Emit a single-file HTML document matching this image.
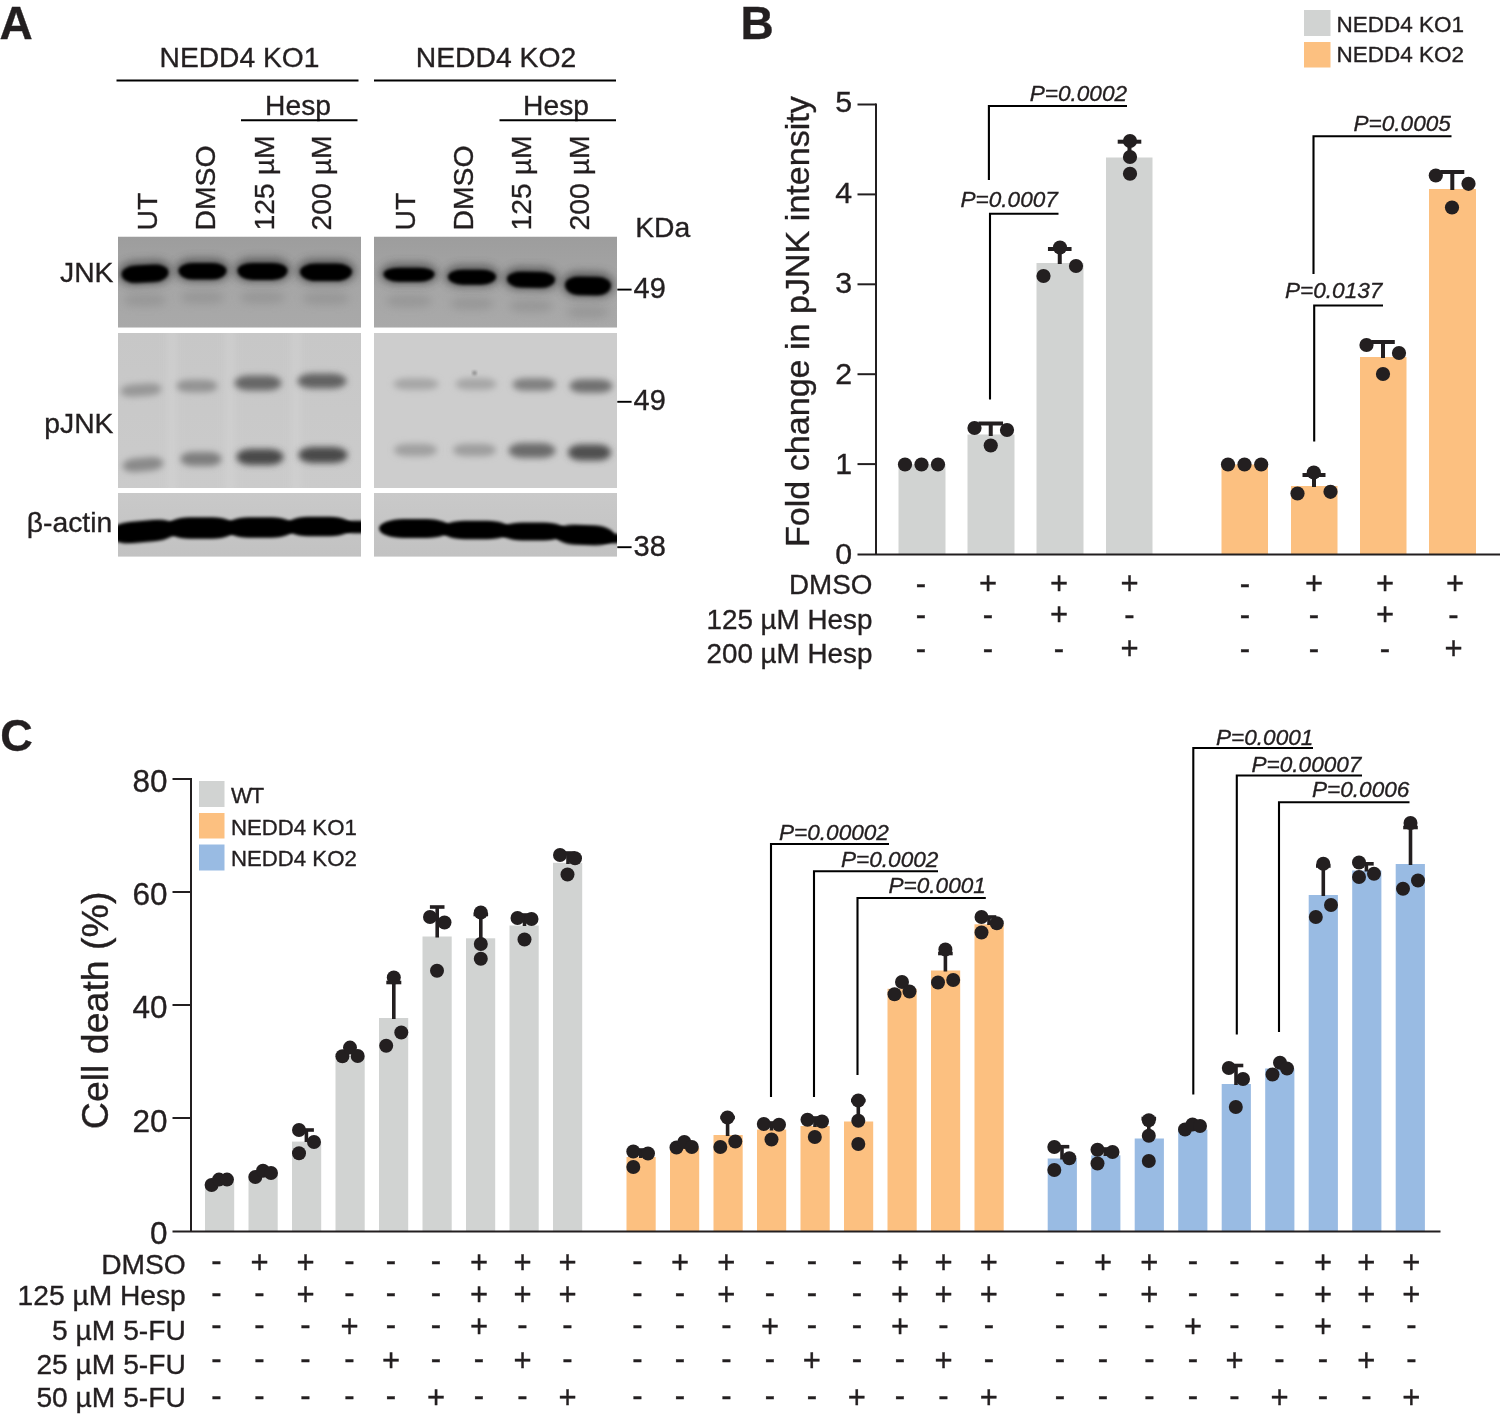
<!DOCTYPE html>
<html lang="en"><head><meta charset="utf-8"><title>Figure</title>
<style>
html,body{margin:0;padding:0;background:#fff;}
svg{display:block;}
text{font-family:'Liberation Sans', Arial, Helvetica, sans-serif;fill:#231f20;stroke:#231f20;stroke-width:0.35px;}
</style></head>
<body>
<svg width="1500" height="1419" viewBox="0 0 1500 1419">
<rect x="0" y="0" width="1500" height="1419" fill="#fff"/>
<defs>
<filter id="b1" x="-20%" y="-50%" width="140%" height="200%"><feGaussianBlur stdDeviation="1.6"/></filter>
<filter id="b2" x="-20%" y="-50%" width="140%" height="200%"><feGaussianBlur stdDeviation="2.6"/></filter>
<filter id="b4" x="-30%" y="-100%" width="160%" height="300%"><feGaussianBlur stdDeviation="3.3"/></filter>
<filter id="b5" x="-300%" y="-10%" width="700%" height="120%"><feGaussianBlur stdDeviation="4"/></filter>
<filter id="b3" x="-20%" y="-80%" width="140%" height="260%"><feGaussianBlur stdDeviation="4"/></filter>
<linearGradient id="gJ" x1="0" y1="0" x2="0" y2="1"><stop offset="0" stop-color="#9d9d9d"/><stop offset="0.55" stop-color="#a6a6a6"/><stop offset="1" stop-color="#a9a9a9"/></linearGradient>
<linearGradient id="gP" x1="0" y1="0" x2="0" y2="1"><stop offset="0" stop-color="#c7c7c7"/><stop offset="1" stop-color="#cbcbcb"/></linearGradient>
<linearGradient id="gA" x1="0" y1="0" x2="0" y2="1"><stop offset="0" stop-color="#c9c9c9"/><stop offset="1" stop-color="#c2c2c2"/></linearGradient>
<clipPath id="cJ0"><rect x="118" y="236.5" width="243" height="91.2"/></clipPath>
<clipPath id="cP0"><rect x="118" y="333" width="243" height="155"/></clipPath>
<clipPath id="cA0"><rect x="118" y="493" width="243" height="63.8"/></clipPath>
<clipPath id="cJ1"><rect x="374" y="236.5" width="243" height="91.2"/></clipPath>
<clipPath id="cP1"><rect x="374" y="333" width="243" height="155"/></clipPath>
<clipPath id="cA1"><rect x="374" y="493" width="243" height="63.8"/></clipPath>
</defs>
<text x="-0.6" y="38.7" font-size="46" font-weight="bold">A</text>
<text x="239.5" y="67" font-size="28.2" text-anchor="middle">NEDD4 KO1</text>
<text x="496" y="67" font-size="28.3" text-anchor="middle">NEDD4 KO2</text>
<line x1="116.5" y1="80.5" x2="358.5" y2="80.5" stroke="#000" stroke-width="2" stroke-linecap="butt"/>
<line x1="374" y1="80.5" x2="616" y2="80.5" stroke="#000" stroke-width="2" stroke-linecap="butt"/>
<text x="298" y="114.5" font-size="28.2" text-anchor="middle">Hesp</text>
<text x="556" y="114.5" font-size="28.2" text-anchor="middle">Hesp</text>
<line x1="241" y1="120.3" x2="357.5" y2="120.3" stroke="#000" stroke-width="2" stroke-linecap="butt"/>
<line x1="499.5" y1="120.3" x2="616" y2="120.3" stroke="#000" stroke-width="2" stroke-linecap="butt"/>
<text x="157.3" y="230.6" font-size="28.4" transform="rotate(-90 157.3 230.6)">UT</text>
<text x="214.8" y="230.6" font-size="28.4" transform="rotate(-90 214.8 230.6)">DMSO</text>
<text x="273.8" y="230.6" font-size="28.4" transform="rotate(-90 273.8 230.6)">125 µM</text>
<text x="331.3" y="230.6" font-size="28.4" transform="rotate(-90 331.3 230.6)">200 µM</text>
<text x="415.3" y="230.6" font-size="28.4" transform="rotate(-90 415.3 230.6)">UT</text>
<text x="473.3" y="230.6" font-size="28.4" transform="rotate(-90 473.3 230.6)">DMSO</text>
<text x="530.8" y="230.6" font-size="28.4" transform="rotate(-90 530.8 230.6)">125 µM</text>
<text x="588.8" y="230.6" font-size="28.4" transform="rotate(-90 588.8 230.6)">200 µM</text>
<text x="635.2" y="236.6" font-size="28.3">KDa</text>
<text x="113.5" y="282.2" font-size="28.3" text-anchor="end">JNK</text>
<text x="113.5" y="432.5" font-size="28.3" text-anchor="end">pJNK</text>
<text x="112.2" y="532.2" font-size="28.3" text-anchor="end">β-actin</text>
<line x1="617.3" y1="289.6" x2="631.6" y2="289.6" stroke="#000" stroke-width="1.9" stroke-linecap="butt"/>
<line x1="617.3" y1="401.8" x2="631.6" y2="401.8" stroke="#000" stroke-width="1.9" stroke-linecap="butt"/>
<line x1="617.3" y1="547.2" x2="631.6" y2="547.2" stroke="#000" stroke-width="1.9" stroke-linecap="butt"/>
<text x="633.6" y="297.6" font-size="29">49</text>
<text x="633.6" y="410.3" font-size="29">49</text>
<text x="633.6" y="555.6" font-size="29">38</text>
<g clip-path="url(#cJ0)">
<rect x="118" y="236.5" width="243" height="91.2" fill="url(#gJ)"/>
<path d="M123.8 300.0 A12.8 6.0 0 0 1 136.5 294.0 H153.5 A12.8 6.0 0 0 1 166.2 300.0 A12.8 6.0 0 0 1 153.5 306.0 H136.5 A12.8 6.0 0 0 1 123.8 300.0Z" fill="#8a8a8a" opacity="0.55" filter="url(#b3)"/>
<path d="M118.0 273.0 A16.2 12.7 0 0 1 134.2 260.4 H155.8 A16.2 12.7 0 0 1 172.0 273.0 A16.2 11.5 0 0 1 155.8 284.5 H134.2 A16.2 11.5 0 0 1 118.0 273.0Z" fill="#404040" opacity="0.7" filter="url(#b3)" transform="rotate(-3 145 273)"/>
<path d="M121.5 273.0 A14.1 7.9 0 0 1 135.6 265.1 H154.4 A14.1 7.9 0 0 1 168.5 273.0 A14.1 9.6 0 0 1 154.4 282.6 H135.6 A14.1 9.6 0 0 1 121.5 273.0Z" fill="#060606" opacity="1" filter="url(#b1)" transform="rotate(-3 145 273)"/>
<path d="M180.8 297.5 A13.0 6.0 0 0 1 193.8 291.5 H211.2 A13.0 6.0 0 0 1 224.2 297.5 A13.0 6.0 0 0 1 211.2 303.5 H193.8 A13.0 6.0 0 0 1 180.8 297.5Z" fill="#8a8a8a" opacity="0.55" filter="url(#b3)"/>
<path d="M175.0 270.5 A16.5 12.1 0 0 1 191.5 258.4 H213.5 A16.5 12.1 0 0 1 230.0 270.5 A16.5 11.0 0 0 1 213.5 281.5 H191.5 A16.5 11.0 0 0 1 175.0 270.5Z" fill="#404040" opacity="0.7" filter="url(#b3)"/>
<path d="M178.5 270.5 A14.4 7.4 0 0 1 192.9 263.1 H212.1 A14.4 7.4 0 0 1 226.5 270.5 A14.4 9.1 0 0 1 212.1 279.6 H192.9 A14.4 9.1 0 0 1 178.5 270.5Z" fill="#060606" opacity="1" filter="url(#b1)"/>
<path d="M240.0 297.5 A13.5 6.0 0 0 1 253.5 291.5 H271.5 A13.5 6.0 0 0 1 285.0 297.5 A13.5 6.0 0 0 1 271.5 303.5 H253.5 A13.5 6.0 0 0 1 240.0 297.5Z" fill="#8a8a8a" opacity="0.55" filter="url(#b3)"/>
<path d="M234.0 270.5 A17.1 12.4 0 0 1 251.1 258.1 H273.9 A17.1 12.4 0 0 1 291.0 270.5 A17.1 11.2 0 0 1 273.9 281.8 H251.1 A17.1 11.2 0 0 1 234.0 270.5Z" fill="#404040" opacity="0.7" filter="url(#b3)"/>
<path d="M237.5 270.5 A15.0 7.7 0 0 1 252.5 262.9 H272.5 A15.0 7.7 0 0 1 287.5 270.5 A15.0 9.4 0 0 1 272.5 279.9 H252.5 A15.0 9.4 0 0 1 237.5 270.5Z" fill="#060606" opacity="1" filter="url(#b1)"/>
<path d="M302.6 298.5 A14.0 6.0 0 0 1 316.6 292.5 H335.4 A14.0 6.0 0 0 1 349.4 298.5 A14.0 6.0 0 0 1 335.4 304.5 H316.6 A14.0 6.0 0 0 1 302.6 298.5Z" fill="#8a8a8a" opacity="0.55" filter="url(#b3)"/>
<path d="M296.5 271.5 A17.7 12.7 0 0 1 314.2 258.9 H337.8 A17.7 12.7 0 0 1 355.5 271.5 A17.7 11.5 0 0 1 337.8 283.0 H314.2 A17.7 11.5 0 0 1 296.5 271.5Z" fill="#404040" opacity="0.7" filter="url(#b3)"/>
<path d="M300.0 271.5 A15.6 7.9 0 0 1 315.6 263.6 H336.4 A15.6 7.9 0 0 1 352.0 271.5 A15.6 9.6 0 0 1 336.4 281.1 H315.6 A15.6 9.6 0 0 1 300.0 271.5Z" fill="#060606" opacity="1" filter="url(#b1)"/>
</g>
<g clip-path="url(#cJ1)">
<rect x="374" y="236.5" width="243" height="91.2" fill="url(#gJ)"/>
<path d="M386.1 301.0 A13.8 6.0 0 0 1 399.8 295.0 H418.2 A13.8 6.0 0 0 1 431.9 301.0 A13.8 6.0 0 0 1 418.2 307.0 H399.8 A13.8 6.0 0 0 1 386.1 301.0Z" fill="#8a8a8a" opacity="0.55" filter="url(#b3)"/>
<path d="M380.0 274.0 A17.4 10.7 0 0 1 397.4 263.3 H420.6 A17.4 10.7 0 0 1 438.0 274.0 A17.4 9.8 0 0 1 420.6 283.8 H397.4 A17.4 9.8 0 0 1 380.0 274.0Z" fill="#404040" opacity="0.7" filter="url(#b3)"/>
<path d="M383.5 274.0 A15.3 6.3 0 0 1 398.8 267.7 H419.2 A15.3 6.3 0 0 1 434.5 274.0 A15.3 7.7 0 0 1 419.2 281.7 H398.8 A15.3 7.7 0 0 1 383.5 274.0Z" fill="#060606" opacity="1" filter="url(#b1)"/>
<path d="M450.3 303.5 A13.0 6.0 0 0 1 463.3 297.5 H480.7 A13.0 6.0 0 0 1 493.7 303.5 A13.0 6.0 0 0 1 480.7 309.5 H463.3 A13.0 6.0 0 0 1 450.3 303.5Z" fill="#8a8a8a" opacity="0.55" filter="url(#b3)"/>
<path d="M444.5 276.5 A16.5 11.3 0 0 1 461.0 265.2 H483.0 A16.5 11.3 0 0 1 499.5 276.5 A16.5 10.2 0 0 1 483.0 286.8 H461.0 A16.5 10.2 0 0 1 444.5 276.5Z" fill="#404040" opacity="0.7" filter="url(#b3)"/>
<path d="M448.0 276.5 A14.4 6.8 0 0 1 462.4 269.8 H481.6 A14.4 6.8 0 0 1 496.0 276.5 A14.4 8.2 0 0 1 481.6 284.8 H462.4 A14.4 8.2 0 0 1 448.0 276.5Z" fill="#060606" opacity="1" filter="url(#b1)"/>
<path d="M509.3 306.0 A13.0 6.0 0 0 1 522.3 300.0 H539.7 A13.0 6.0 0 0 1 552.7 306.0 A13.0 6.0 0 0 1 539.7 312.0 H522.3 A13.0 6.0 0 0 1 509.3 306.0Z" fill="#8a8a8a" opacity="0.55" filter="url(#b3)"/>
<path d="M503.5 279.0 A16.5 11.8 0 0 1 520.0 267.2 H542.0 A16.5 11.8 0 0 1 558.5 279.0 A16.5 10.8 0 0 1 542.0 289.8 H520.0 A16.5 10.8 0 0 1 503.5 279.0Z" fill="#404040" opacity="0.7" filter="url(#b3)" transform="rotate(1 531 279)"/>
<path d="M507.0 279.0 A14.4 7.2 0 0 1 521.4 271.8 H540.6 A14.4 7.2 0 0 1 555.0 279.0 A14.4 8.8 0 0 1 540.6 287.8 H521.4 A14.4 8.8 0 0 1 507.0 279.0Z" fill="#060606" opacity="1" filter="url(#b1)" transform="rotate(1 531 279)"/>
<path d="M567.2 312.0 A12.5 6.0 0 0 1 579.7 306.0 H596.3 A12.5 6.0 0 0 1 608.8 312.0 A12.5 6.0 0 0 1 596.3 318.0 H579.7 A12.5 6.0 0 0 1 567.2 312.0Z" fill="#8a8a8a" opacity="0.55" filter="url(#b3)"/>
<path d="M561.5 285.0 A15.9 13.2 0 0 1 577.4 271.8 H598.6 A15.9 13.2 0 0 1 614.5 285.0 A15.9 12.0 0 0 1 598.6 297.0 H577.4 A15.9 12.0 0 0 1 561.5 285.0Z" fill="#404040" opacity="0.7" filter="url(#b3)" transform="rotate(1 588 285)"/>
<path d="M565.0 285.0 A13.8 8.3 0 0 1 578.8 276.7 H597.2 A13.8 8.3 0 0 1 611.0 285.0 A13.8 10.2 0 0 1 597.2 295.2 H578.8 A13.8 10.2 0 0 1 565.0 285.0Z" fill="#060606" opacity="1" filter="url(#b1)" transform="rotate(1 588 285)"/>
</g>
<g clip-path="url(#cP0)">
<rect x="118" y="333" width="243" height="155" fill="url(#gP)"/>
<rect x="168" y="325" width="8" height="170" fill="#dadada" opacity="0.45" filter="url(#b5)"/>
<rect x="226" y="325" width="8" height="170" fill="#dadada" opacity="0.45" filter="url(#b5)"/>
<rect x="292" y="325" width="8" height="170" fill="#dadada" opacity="0.45" filter="url(#b5)"/>
<path d="M120.5 390.0 A12.3 6.2 0 0 1 132.8 383.8 H149.2 A12.3 6.2 0 0 1 161.5 390.0 A12.3 6.2 0 0 1 149.2 396.2 H132.8 A12.3 6.2 0 0 1 120.5 390.0Z" fill="#979797" opacity="1" filter="url(#b4)" transform="rotate(-4 141 390)"/>
<path d="M176.5 386.0 A12.3 6.2 0 0 1 188.8 379.8 H205.2 A12.3 6.2 0 0 1 217.5 386.0 A12.3 6.2 0 0 1 205.2 392.2 H188.8 A12.3 6.2 0 0 1 176.5 386.0Z" fill="#939393" opacity="1" filter="url(#b4)"/>
<path d="M234.5 383.0 A14.1 7.5 0 0 1 248.6 375.5 H267.4 A14.1 7.5 0 0 1 281.5 383.0 A14.1 7.5 0 0 1 267.4 390.5 H248.6 A14.1 7.5 0 0 1 234.5 383.0Z" fill="#666666" opacity="1" filter="url(#b4)"/>
<path d="M297.5 381.0 A14.7 7.5 0 0 1 312.2 373.5 H331.8 A14.7 7.5 0 0 1 346.5 381.0 A14.7 7.5 0 0 1 331.8 388.5 H312.2 A14.7 7.5 0 0 1 297.5 381.0Z" fill="#626262" opacity="1" filter="url(#b4)"/>
<path d="M122.5 464.5 A12.3 6.8 0 0 1 134.8 457.8 H151.2 A12.3 6.8 0 0 1 163.5 464.5 A12.3 6.8 0 0 1 151.2 471.2 H134.8 A12.3 6.8 0 0 1 122.5 464.5Z" fill="#898989" opacity="1" filter="url(#b4)" transform="rotate(-5 143 464.5)"/>
<path d="M180.5 459.0 A12.3 7.0 0 0 1 192.8 452.0 H209.2 A12.3 7.0 0 0 1 221.5 459.0 A12.3 7.0 0 0 1 209.2 466.0 H192.8 A12.3 7.0 0 0 1 180.5 459.0Z" fill="#7e7e7e" opacity="1" filter="url(#b4)"/>
<path d="M236.5 457.0 A14.1 8.0 0 0 1 250.6 449.0 H269.4 A14.1 8.0 0 0 1 283.5 457.0 A14.1 8.0 0 0 1 269.4 465.0 H250.6 A14.1 8.0 0 0 1 236.5 457.0Z" fill="#484848" opacity="1" filter="url(#b4)"/>
<path d="M298.5 455.0 A14.7 8.0 0 0 1 313.2 447.0 H332.8 A14.7 8.0 0 0 1 347.5 455.0 A14.7 8.0 0 0 1 332.8 463.0 H313.2 A14.7 8.0 0 0 1 298.5 455.0Z" fill="#484848" opacity="1" filter="url(#b4)"/>
</g>
<g clip-path="url(#cP1)">
<rect x="374" y="333" width="243" height="155" fill="#cdcdcd"/>
<path d="M393.5 384.0 A13.5 5.8 0 0 1 407.0 378.2 H425.0 A13.5 5.8 0 0 1 438.5 384.0 A13.5 5.8 0 0 1 425.0 389.8 H407.0 A13.5 5.8 0 0 1 393.5 384.0Z" fill="#a6a6a6" opacity="1" filter="url(#b4)"/>
<path d="M455.5 384.0 A12.3 5.8 0 0 1 467.8 378.2 H484.2 A12.3 5.8 0 0 1 496.5 384.0 A12.3 5.8 0 0 1 484.2 389.8 H467.8 A12.3 5.8 0 0 1 455.5 384.0Z" fill="#a6a6a6" opacity="1" filter="url(#b4)"/>
<path d="M512.5 384.5 A12.9 6.2 0 0 1 525.4 378.2 H542.6 A12.9 6.2 0 0 1 555.5 384.5 A12.9 6.2 0 0 1 542.6 390.8 H525.4 A12.9 6.2 0 0 1 512.5 384.5Z" fill="#808080" opacity="1" filter="url(#b4)"/>
<path d="M569.5 386.0 A12.9 6.8 0 0 1 582.4 379.2 H599.6 A12.9 6.8 0 0 1 612.5 386.0 A12.9 6.8 0 0 1 599.6 392.8 H582.4 A12.9 6.8 0 0 1 569.5 386.0Z" fill="#707070" opacity="1" filter="url(#b4)"/>
<path d="M394.0 450.0 A12.9 6.2 0 0 1 406.9 443.8 H424.1 A12.9 6.2 0 0 1 437.0 450.0 A12.9 6.2 0 0 1 424.1 456.2 H406.9 A12.9 6.2 0 0 1 394.0 450.0Z" fill="#a0a0a0" opacity="1" filter="url(#b4)"/>
<path d="M453.0 450.0 A12.9 6.2 0 0 1 465.9 443.8 H483.1 A12.9 6.2 0 0 1 496.0 450.0 A12.9 6.2 0 0 1 483.1 456.2 H465.9 A12.9 6.2 0 0 1 453.0 450.0Z" fill="#9e9e9e" opacity="1" filter="url(#b4)"/>
<path d="M508.5 450.5 A14.1 7.5 0 0 1 522.6 443.0 H541.4 A14.1 7.5 0 0 1 555.5 450.5 A14.1 7.5 0 0 1 541.4 458.0 H522.6 A14.1 7.5 0 0 1 508.5 450.5Z" fill="#6c6c6c" opacity="1" filter="url(#b4)"/>
<path d="M568.0 452.5 A12.9 8.0 0 0 1 580.9 444.5 H598.1 A12.9 8.0 0 0 1 611.0 452.5 A12.9 8.0 0 0 1 598.1 460.5 H580.9 A12.9 8.0 0 0 1 568.0 452.5Z" fill="#505050" opacity="1" filter="url(#b4)"/>
<circle cx="474.5" cy="373" r="2" fill="#777" filter="url(#b1)"/>
</g>
<g clip-path="url(#cA0)">
<rect x="118" y="493" width="243" height="63.8" fill="url(#gA)"/>
<path d="M108.0 531.5 A23.8 10.8 0 0 1 131.8 520.8 H154.2 A23.8 10.8 0 0 1 178.0 531.5 A23.8 10.8 0 0 1 154.2 542.2 H131.8 A23.8 10.8 0 0 1 108.0 531.5Z" fill="#050505" opacity="1" filter="url(#b1)" transform="rotate(-5 143 531.5)"/>
<path d="M166.0 528.0 A23.8 10.8 0 0 1 189.8 517.2 H212.2 A23.8 10.8 0 0 1 236.0 528.0 A23.8 10.8 0 0 1 212.2 538.8 H189.8 A23.8 10.8 0 0 1 166.0 528.0Z" fill="#050505" opacity="1" filter="url(#b1)"/>
<path d="M225.0 527.5 A23.8 10.2 0 0 1 248.8 517.2 H271.2 A23.8 10.2 0 0 1 295.0 527.5 A23.8 10.2 0 0 1 271.2 537.8 H248.8 A23.8 10.2 0 0 1 225.0 527.5Z" fill="#050505" opacity="1" filter="url(#b1)"/>
<path d="M285.0 526.5 A23.1 9.8 0 0 1 308.1 516.8 H329.9 A23.1 9.8 0 0 1 353.0 526.5 A23.1 9.8 0 0 1 329.9 536.2 H308.1 A23.1 9.8 0 0 1 285.0 526.5Z" fill="#050505" opacity="1" filter="url(#b1)"/>
<path d="M342.0 527.0 A10.9 6.2 0 0 1 352.9 520.8 H363.1 A10.9 6.2 0 0 1 374.0 527.0 A10.9 6.2 0 0 1 363.1 533.2 H352.9 A10.9 6.2 0 0 1 342.0 527.0Z" fill="#050505" opacity="1" filter="url(#b1)"/>
</g>
<g clip-path="url(#cA1)">
<rect x="374" y="493" width="243" height="63.8" fill="url(#gA)"/>
<path d="M379.0 528.5 A24.5 9.5 0 0 1 403.5 519.0 H426.5 A24.5 9.5 0 0 1 451.0 528.5 A24.5 9.5 0 0 1 426.5 538.0 H403.5 A24.5 9.5 0 0 1 379.0 528.5Z" fill="#050505" opacity="1" filter="url(#b1)"/>
<path d="M441.0 530.0 A23.8 9.2 0 0 1 464.8 520.8 H487.2 A23.8 9.2 0 0 1 511.0 530.0 A23.8 9.2 0 0 1 487.2 539.2 H464.8 A23.8 9.2 0 0 1 441.0 530.0Z" fill="#050505" opacity="1" filter="url(#b1)"/>
<path d="M499.0 531.5 A23.1 9.0 0 0 1 522.1 522.5 H543.9 A23.1 9.0 0 0 1 567.0 531.5 A23.1 9.0 0 0 1 543.9 540.5 H522.1 A23.1 9.0 0 0 1 499.0 531.5Z" fill="#050505" opacity="1" filter="url(#b1)"/>
<path d="M554.5 535.0 A20.4 10.0 0 0 1 574.9 525.0 H594.1 A20.4 10.0 0 0 1 614.5 535.0 A20.4 10.0 0 0 1 594.1 545.0 H574.9 A20.4 10.0 0 0 1 554.5 535.0Z" fill="#050505" opacity="1" filter="url(#b1)" transform="rotate(2 584.5 535)"/>
<path d="M596.0 538.5 A10.9 4.8 0 0 1 606.9 533.8 H617.1 A10.9 4.8 0 0 1 628.0 538.5 A10.9 4.8 0 0 1 617.1 543.2 H606.9 A10.9 4.8 0 0 1 596.0 538.5Z" fill="#050505" opacity="1" filter="url(#b1)"/>
</g>
<text x="740.6" y="38.7" font-size="46" font-weight="bold">B</text>
<rect x="1304" y="10" width="26.5" height="26" fill="#d1d3d2"/>
<rect x="1304" y="42" width="26.5" height="25.5" fill="#fcc080"/>
<text x="1336.5" y="31.5" font-size="22.5">NEDD4 KO1</text>
<text x="1336.5" y="62" font-size="22.5">NEDD4 KO2</text>
<text x="808.5" y="547" font-size="34.1" transform="rotate(-90 808.5 547)">Fold change in pJNK intensity</text>
<rect x="898.5" y="464.5" width="47" height="89.5" fill="#d1d3d2"/>
<rect x="967.5" y="434.5" width="47" height="119.5" fill="#d1d3d2"/>
<rect x="1036.5" y="263" width="47" height="291.0" fill="#d1d3d2"/>
<rect x="1106" y="157.5" width="46.5" height="396.5" fill="#d1d3d2"/>
<rect x="1221.5" y="464.5" width="46.5" height="89.5" fill="#fcc080"/>
<rect x="1291" y="486" width="46.5" height="68.0" fill="#fcc080"/>
<rect x="1360" y="357" width="46.5" height="197.0" fill="#fcc080"/>
<rect x="1429" y="189" width="47" height="365.0" fill="#fcc080"/>
<line x1="876" y1="103.5" x2="876" y2="555" stroke="#231f20" stroke-width="2" stroke-linecap="butt"/>
<line x1="857.5" y1="554.6" x2="1500" y2="554.6" stroke="#231f20" stroke-width="2" stroke-linecap="butt"/>
<text x="852" y="564.0" font-size="30.3" text-anchor="end">0</text>
<line x1="857.5" y1="464.1" x2="876" y2="464.1" stroke="#231f20" stroke-width="2" stroke-linecap="butt"/>
<text x="852" y="474.0" font-size="30.3" text-anchor="end">1</text>
<line x1="857.5" y1="374.2" x2="876" y2="374.2" stroke="#231f20" stroke-width="2" stroke-linecap="butt"/>
<text x="852" y="383.8" font-size="30.3" text-anchor="end">2</text>
<line x1="857.5" y1="284.29999999999995" x2="876" y2="284.29999999999995" stroke="#231f20" stroke-width="2" stroke-linecap="butt"/>
<text x="852" y="293.2" font-size="30.3" text-anchor="end">3</text>
<line x1="857.5" y1="194.39999999999998" x2="876" y2="194.39999999999998" stroke="#231f20" stroke-width="2" stroke-linecap="butt"/>
<text x="852" y="202.5" font-size="30.3" text-anchor="end">4</text>
<line x1="857.5" y1="104.5" x2="876" y2="104.5" stroke="#231f20" stroke-width="2" stroke-linecap="butt"/>
<text x="852" y="111.6" font-size="30.3" text-anchor="end">5</text>
<line x1="990.75" y1="423.5" x2="990.75" y2="436" stroke="#231f20" stroke-width="4" stroke-linecap="butt"/>
<line x1="978.45" y1="423.5" x2="1003.05" y2="423.5" stroke="#231f20" stroke-width="4" stroke-linecap="butt"/>
<line x1="1059.75" y1="249" x2="1059.75" y2="264" stroke="#231f20" stroke-width="4" stroke-linecap="butt"/>
<line x1="1047.95" y1="249" x2="1071.55" y2="249" stroke="#231f20" stroke-width="4" stroke-linecap="butt"/>
<line x1="1129.5" y1="141.7" x2="1129.5" y2="159" stroke="#231f20" stroke-width="4" stroke-linecap="butt"/>
<line x1="1117.7" y1="141.7" x2="1141.3" y2="141.7" stroke="#231f20" stroke-width="4" stroke-linecap="butt"/>
<line x1="1314" y1="475" x2="1314" y2="487" stroke="#231f20" stroke-width="4" stroke-linecap="butt"/>
<line x1="1302.5" y1="475" x2="1325.5" y2="475" stroke="#231f20" stroke-width="4" stroke-linecap="butt"/>
<line x1="1383" y1="342" x2="1383" y2="358" stroke="#231f20" stroke-width="4" stroke-linecap="butt"/>
<line x1="1371.2" y1="342" x2="1394.8" y2="342" stroke="#231f20" stroke-width="4" stroke-linecap="butt"/>
<line x1="1452.3" y1="172" x2="1452.3" y2="190" stroke="#231f20" stroke-width="4" stroke-linecap="butt"/>
<line x1="1440.3" y1="172" x2="1464.3" y2="172" stroke="#231f20" stroke-width="4" stroke-linecap="butt"/>
<circle cx="905" cy="464.5" r="7.1" fill="#231f20"/>
<circle cx="921.5" cy="464.5" r="7.1" fill="#231f20"/>
<circle cx="938" cy="464.5" r="7.1" fill="#231f20"/>
<circle cx="974.5" cy="428" r="7.1" fill="#231f20"/>
<circle cx="1007" cy="430" r="7.1" fill="#231f20"/>
<circle cx="990.75" cy="445.5" r="7.1" fill="#231f20"/>
<circle cx="1060" cy="247.5" r="7.1" fill="#231f20"/>
<circle cx="1076" cy="266" r="7.1" fill="#231f20"/>
<circle cx="1043.5" cy="276" r="7.1" fill="#231f20"/>
<circle cx="1130" cy="141" r="7.1" fill="#231f20"/>
<circle cx="1130" cy="157" r="7.1" fill="#231f20"/>
<circle cx="1130" cy="173.75" r="7.1" fill="#231f20"/>
<circle cx="1228" cy="464.5" r="7.1" fill="#231f20"/>
<circle cx="1244.5" cy="464.5" r="7.1" fill="#231f20"/>
<circle cx="1261.2" cy="464.5" r="7.1" fill="#231f20"/>
<circle cx="1313.8" cy="472.5" r="7.1" fill="#231f20"/>
<circle cx="1297.5" cy="493.5" r="7.1" fill="#231f20"/>
<circle cx="1330.5" cy="491.8" r="7.1" fill="#231f20"/>
<circle cx="1366.5" cy="345" r="7.1" fill="#231f20"/>
<circle cx="1399" cy="353" r="7.1" fill="#231f20"/>
<circle cx="1383" cy="374" r="7.1" fill="#231f20"/>
<circle cx="1435.8" cy="175.5" r="7.1" fill="#231f20"/>
<circle cx="1468.5" cy="183.8" r="7.1" fill="#231f20"/>
<circle cx="1452" cy="207.5" r="7.1" fill="#231f20"/>
<path d="M1127 106 H988.9 V180" fill="none" stroke="#000" stroke-width="2.1" stroke-linejoin="miter"/>
<path d="M1058.5 213.8 H990 V399.5" fill="none" stroke="#000" stroke-width="2.1" stroke-linejoin="miter"/>
<path d="M1451.5 136.3 H1313.5 V274" fill="none" stroke="#000" stroke-width="2.1" stroke-linejoin="miter"/>
<path d="M1383 305.5 H1314.2 V441.5" fill="none" stroke="#000" stroke-width="2.1" stroke-linejoin="miter"/>
<text x="1029.7" y="101" font-size="22.6" font-style="italic">P=0.0002</text>
<text x="960.5" y="207" font-size="22.6" font-style="italic">P=0.0007</text>
<text x="1353.5" y="131" font-size="22.6" font-style="italic">P=0.0005</text>
<text x="1285" y="298" font-size="22.6" font-style="italic">P=0.0137</text>
<text x="872.4" y="594.2" font-size="27.8" text-anchor="end">DMSO</text>
<text x="872.4" y="628.5" font-size="27.8" text-anchor="end">125 µM Hesp</text>
<text x="872.4" y="663" font-size="27.8" text-anchor="end">200 µM Hesp</text>
<text x="921" y="593.82" font-size="31" text-anchor="middle">-</text>
<text x="988" y="593.51" font-size="31" text-anchor="middle">+</text>
<text x="1059" y="593.51" font-size="31" text-anchor="middle">+</text>
<text x="1129.5" y="593.51" font-size="31" text-anchor="middle">+</text>
<text x="1245" y="593.82" font-size="31" text-anchor="middle">-</text>
<text x="1314" y="593.51" font-size="31" text-anchor="middle">+</text>
<text x="1385" y="593.51" font-size="31" text-anchor="middle">+</text>
<text x="1455" y="593.51" font-size="31" text-anchor="middle">+</text>
<text x="921" y="624.82" font-size="31" text-anchor="middle">-</text>
<text x="988" y="624.82" font-size="31" text-anchor="middle">-</text>
<text x="1059" y="625.11" font-size="31" text-anchor="middle">+</text>
<text x="1129.5" y="624.82" font-size="31" text-anchor="middle">-</text>
<text x="1245" y="624.82" font-size="31" text-anchor="middle">-</text>
<text x="1314" y="624.82" font-size="31" text-anchor="middle">-</text>
<text x="1385" y="625.11" font-size="31" text-anchor="middle">+</text>
<text x="1453.5" y="624.82" font-size="31" text-anchor="middle">-</text>
<text x="921" y="659.12" font-size="31" text-anchor="middle">-</text>
<text x="988" y="659.12" font-size="31" text-anchor="middle">-</text>
<text x="1059" y="659.12" font-size="31" text-anchor="middle">-</text>
<text x="1129.5" y="659.11" font-size="31" text-anchor="middle">+</text>
<text x="1245" y="659.12" font-size="31" text-anchor="middle">-</text>
<text x="1314" y="659.12" font-size="31" text-anchor="middle">-</text>
<text x="1385" y="659.12" font-size="31" text-anchor="middle">-</text>
<text x="1453.5" y="659.11" font-size="31" text-anchor="middle">+</text>
<text x="0.3" y="750.7" font-size="45" font-weight="bold">C</text>
<rect x="199" y="781" width="25.5" height="26" fill="#d1d3d2"/>
<rect x="199" y="813" width="25.5" height="25.5" fill="#fcc080"/>
<rect x="199" y="844.5" width="25.5" height="26" fill="#99bbe3"/>
<text x="231" y="802.7" font-size="22.3" letter-spacing="-1.6">WT</text>
<text x="231" y="835.3" font-size="22.2">NEDD4 KO1</text>
<text x="231" y="866.3" font-size="22.2">NEDD4 KO2</text>
<text x="108" y="1129.2" font-size="37.5" transform="rotate(-90 108 1129.2)">Cell death (%)</text>
<rect x="205.0" y="1182" width="29.2" height="49.0" fill="#d1d3d2"/>
<rect x="248.5" y="1174" width="29.2" height="57.0" fill="#d1d3d2"/>
<rect x="292.0" y="1141.6" width="29.2" height="89.40000000000009" fill="#d1d3d2"/>
<rect x="335.5" y="1056" width="29.2" height="175.0" fill="#d1d3d2"/>
<rect x="379.0" y="1018" width="29.2" height="213.0" fill="#d1d3d2"/>
<rect x="422.5" y="936.5" width="29.2" height="294.5" fill="#d1d3d2"/>
<rect x="466.0" y="938.3" width="29.2" height="292.70000000000005" fill="#d1d3d2"/>
<rect x="509.5" y="925.5" width="29.2" height="305.5" fill="#d1d3d2"/>
<rect x="553.0" y="862.8" width="29.2" height="368.20000000000005" fill="#d1d3d2"/>
<rect x="626.5" y="1157" width="29.2" height="74.0" fill="#fcc080"/>
<rect x="670.0" y="1148" width="29.2" height="83.0" fill="#fcc080"/>
<rect x="713.5" y="1135" width="29.2" height="96.0" fill="#fcc080"/>
<rect x="757.0" y="1129.5" width="29.2" height="101.5" fill="#fcc080"/>
<rect x="800.5" y="1126" width="29.2" height="105.0" fill="#fcc080"/>
<rect x="844.0" y="1121.5" width="29.2" height="109.5" fill="#fcc080"/>
<rect x="887.5" y="988.8" width="29.2" height="242.20000000000005" fill="#fcc080"/>
<rect x="931.0" y="970.5" width="29.2" height="260.5" fill="#fcc080"/>
<rect x="974.5" y="924.3" width="29.2" height="306.70000000000005" fill="#fcc080"/>
<rect x="1047.7" y="1158.5" width="29.2" height="72.5" fill="#99bbe3"/>
<rect x="1091.2" y="1155.3" width="29.2" height="75.70000000000005" fill="#99bbe3"/>
<rect x="1134.7" y="1138.5" width="29.2" height="92.5" fill="#99bbe3"/>
<rect x="1178.2" y="1129.5" width="29.2" height="101.5" fill="#99bbe3"/>
<rect x="1221.7" y="1084" width="29.2" height="147.0" fill="#99bbe3"/>
<rect x="1265.2" y="1068.5" width="29.2" height="162.5" fill="#99bbe3"/>
<rect x="1308.7" y="895" width="29.2" height="336.0" fill="#99bbe3"/>
<rect x="1352.2" y="870.5" width="29.2" height="360.5" fill="#99bbe3"/>
<rect x="1395.7" y="864" width="29.2" height="367.0" fill="#99bbe3"/>
<line x1="191" y1="778" x2="191" y2="1232" stroke="#231f20" stroke-width="2" stroke-linecap="butt"/>
<line x1="172.5" y1="1231.5" x2="1440.5" y2="1231.5" stroke="#231f20" stroke-width="2" stroke-linecap="butt"/>
<text x="167.5" y="1243.6" font-size="31.5" text-anchor="end">0</text>
<line x1="172.5" y1="1118.0" x2="191" y2="1118.0" stroke="#231f20" stroke-width="2" stroke-linecap="butt"/>
<text x="167.5" y="1131.7" font-size="31.5" text-anchor="end">20</text>
<line x1="172.5" y1="1005.0" x2="191" y2="1005.0" stroke="#231f20" stroke-width="2" stroke-linecap="butt"/>
<text x="167.5" y="1018.3" font-size="31.5" text-anchor="end">40</text>
<line x1="172.5" y1="892.0" x2="191" y2="892.0" stroke="#231f20" stroke-width="2" stroke-linecap="butt"/>
<text x="167.5" y="905.2" font-size="31.5" text-anchor="end">60</text>
<line x1="172.5" y1="779.0" x2="191" y2="779.0" stroke="#231f20" stroke-width="2" stroke-linecap="butt"/>
<text x="167.5" y="792.2" font-size="31.5" text-anchor="end">80</text>
<line x1="306.4" y1="1130" x2="306.4" y2="1142" stroke="#231f20" stroke-width="3.6" stroke-linecap="butt"/>
<line x1="298.9" y1="1130" x2="313.9" y2="1130" stroke="#231f20" stroke-width="3.6" stroke-linecap="butt"/>
<line x1="393.8" y1="982.5" x2="393.8" y2="1019" stroke="#231f20" stroke-width="3.6" stroke-linecap="butt"/>
<line x1="386.3" y1="982.5" x2="401.3" y2="982.5" stroke="#231f20" stroke-width="3.6" stroke-linecap="butt"/>
<line x1="437.2" y1="907" x2="437.2" y2="937.5" stroke="#231f20" stroke-width="3.6" stroke-linecap="butt"/>
<line x1="429.9" y1="907" x2="444.5" y2="907" stroke="#231f20" stroke-width="3.6" stroke-linecap="butt"/>
<line x1="480.8" y1="914.5" x2="480.8" y2="939" stroke="#231f20" stroke-width="3.6" stroke-linecap="butt"/>
<line x1="473.5" y1="914.5" x2="488.1" y2="914.5" stroke="#231f20" stroke-width="3.6" stroke-linecap="butt"/>
<line x1="524.5" y1="915" x2="524.5" y2="926" stroke="#231f20" stroke-width="3.6" stroke-linecap="butt"/>
<line x1="517.2" y1="915" x2="531.8" y2="915" stroke="#231f20" stroke-width="3.6" stroke-linecap="butt"/>
<line x1="568" y1="853" x2="568" y2="864" stroke="#231f20" stroke-width="3.6" stroke-linecap="butt"/>
<line x1="560.7" y1="853" x2="575.3" y2="853" stroke="#231f20" stroke-width="3.6" stroke-linecap="butt"/>
<line x1="640.8" y1="1150" x2="640.8" y2="1158" stroke="#231f20" stroke-width="3.6" stroke-linecap="butt"/>
<line x1="633.5" y1="1150" x2="648.0999999999999" y2="1150" stroke="#231f20" stroke-width="3.6" stroke-linecap="butt"/>
<line x1="727.6" y1="1117.5" x2="727.6" y2="1136" stroke="#231f20" stroke-width="3.6" stroke-linecap="butt"/>
<line x1="720.3000000000001" y1="1117.5" x2="734.9" y2="1117.5" stroke="#231f20" stroke-width="3.6" stroke-linecap="butt"/>
<line x1="771.5" y1="1123" x2="771.5" y2="1130.5" stroke="#231f20" stroke-width="3.6" stroke-linecap="butt"/>
<line x1="764.2" y1="1123" x2="778.8" y2="1123" stroke="#231f20" stroke-width="3.6" stroke-linecap="butt"/>
<line x1="815" y1="1118" x2="815" y2="1127" stroke="#231f20" stroke-width="3.6" stroke-linecap="butt"/>
<line x1="807.7" y1="1118" x2="822.3" y2="1118" stroke="#231f20" stroke-width="3.6" stroke-linecap="butt"/>
<line x1="858.3" y1="1100.5" x2="858.3" y2="1122.5" stroke="#231f20" stroke-width="3.6" stroke-linecap="butt"/>
<line x1="851.0" y1="1100.5" x2="865.5999999999999" y2="1100.5" stroke="#231f20" stroke-width="3.6" stroke-linecap="butt"/>
<line x1="945.4" y1="953.5" x2="945.4" y2="971.5" stroke="#231f20" stroke-width="3.6" stroke-linecap="butt"/>
<line x1="938.1" y1="953.5" x2="952.6999999999999" y2="953.5" stroke="#231f20" stroke-width="3.6" stroke-linecap="butt"/>
<line x1="989" y1="917" x2="989" y2="925" stroke="#231f20" stroke-width="3.6" stroke-linecap="butt"/>
<line x1="981.7" y1="917" x2="996.3" y2="917" stroke="#231f20" stroke-width="3.6" stroke-linecap="butt"/>
<line x1="1062" y1="1146.7" x2="1062" y2="1159.5" stroke="#231f20" stroke-width="3.6" stroke-linecap="butt"/>
<line x1="1054.7" y1="1146.7" x2="1069.3" y2="1146.7" stroke="#231f20" stroke-width="3.6" stroke-linecap="butt"/>
<line x1="1105.3" y1="1149" x2="1105.3" y2="1156" stroke="#231f20" stroke-width="3.6" stroke-linecap="butt"/>
<line x1="1098.0" y1="1149" x2="1112.6" y2="1149" stroke="#231f20" stroke-width="3.6" stroke-linecap="butt"/>
<line x1="1148.8" y1="1118.5" x2="1148.8" y2="1139.5" stroke="#231f20" stroke-width="3.6" stroke-linecap="butt"/>
<line x1="1141.5" y1="1118.5" x2="1156.1" y2="1118.5" stroke="#231f20" stroke-width="3.6" stroke-linecap="butt"/>
<line x1="1236" y1="1065.5" x2="1236" y2="1085" stroke="#231f20" stroke-width="3.6" stroke-linecap="butt"/>
<line x1="1228.7" y1="1065.5" x2="1243.3" y2="1065.5" stroke="#231f20" stroke-width="3.6" stroke-linecap="butt"/>
<line x1="1323.3" y1="866" x2="1323.3" y2="896" stroke="#231f20" stroke-width="3.6" stroke-linecap="butt"/>
<line x1="1316.0" y1="866" x2="1330.6" y2="866" stroke="#231f20" stroke-width="3.6" stroke-linecap="butt"/>
<line x1="1366.4" y1="863.8" x2="1366.4" y2="871.5" stroke="#231f20" stroke-width="3.6" stroke-linecap="butt"/>
<line x1="1359.1000000000001" y1="863.8" x2="1373.7" y2="863.8" stroke="#231f20" stroke-width="3.6" stroke-linecap="butt"/>
<line x1="1410.5" y1="827.5" x2="1410.5" y2="865" stroke="#231f20" stroke-width="3.6" stroke-linecap="butt"/>
<line x1="1403.2" y1="827.5" x2="1417.8" y2="827.5" stroke="#231f20" stroke-width="3.6" stroke-linecap="butt"/>
<circle cx="211.6" cy="1185" r="7.0" fill="#231f20"/>
<circle cx="219" cy="1179.6" r="7.0" fill="#231f20"/>
<circle cx="227" cy="1179.6" r="7.0" fill="#231f20"/>
<circle cx="255.3" cy="1177" r="7.0" fill="#231f20"/>
<circle cx="263" cy="1170.7" r="7.0" fill="#231f20"/>
<circle cx="271" cy="1173" r="7.0" fill="#231f20"/>
<circle cx="299" cy="1130" r="7.0" fill="#231f20"/>
<circle cx="314" cy="1142" r="7.0" fill="#231f20"/>
<circle cx="299" cy="1153.3" r="7.0" fill="#231f20"/>
<circle cx="342.4" cy="1056.3" r="7.0" fill="#231f20"/>
<circle cx="350" cy="1047.6" r="7.0" fill="#231f20"/>
<circle cx="357.7" cy="1056" r="7.0" fill="#231f20"/>
<circle cx="393.8" cy="977.5" r="7.0" fill="#231f20"/>
<circle cx="401.3" cy="1032.5" r="7.0" fill="#231f20"/>
<circle cx="386.2" cy="1045.8" r="7.0" fill="#231f20"/>
<circle cx="430" cy="917" r="7.0" fill="#231f20"/>
<circle cx="444.5" cy="922.5" r="7.0" fill="#231f20"/>
<circle cx="437" cy="970.8" r="7.0" fill="#231f20"/>
<circle cx="480.8" cy="912.5" r="7.0" fill="#231f20"/>
<circle cx="480.8" cy="944" r="7.0" fill="#231f20"/>
<circle cx="480.8" cy="958.8" r="7.0" fill="#231f20"/>
<circle cx="517.5" cy="918" r="7.0" fill="#231f20"/>
<circle cx="531.5" cy="919" r="7.0" fill="#231f20"/>
<circle cx="524.5" cy="939.5" r="7.0" fill="#231f20"/>
<circle cx="560" cy="855" r="7.0" fill="#231f20"/>
<circle cx="575" cy="858.3" r="7.0" fill="#231f20"/>
<circle cx="567.5" cy="874.5" r="7.0" fill="#231f20"/>
<circle cx="633.3" cy="1151.5" r="7.0" fill="#231f20"/>
<circle cx="648" cy="1153.5" r="7.0" fill="#231f20"/>
<circle cx="633.3" cy="1167" r="7.0" fill="#231f20"/>
<circle cx="676.5" cy="1147.5" r="7.0" fill="#231f20"/>
<circle cx="684.3" cy="1142" r="7.0" fill="#231f20"/>
<circle cx="691.8" cy="1147" r="7.0" fill="#231f20"/>
<circle cx="727.5" cy="1117.5" r="7.0" fill="#231f20"/>
<circle cx="735.3" cy="1141.5" r="7.0" fill="#231f20"/>
<circle cx="720.3" cy="1147" r="7.0" fill="#231f20"/>
<circle cx="763.8" cy="1124" r="7.0" fill="#231f20"/>
<circle cx="779" cy="1124.8" r="7.0" fill="#231f20"/>
<circle cx="771.5" cy="1139.5" r="7.0" fill="#231f20"/>
<circle cx="807.5" cy="1119.8" r="7.0" fill="#231f20"/>
<circle cx="822" cy="1121.5" r="7.0" fill="#231f20"/>
<circle cx="814.8" cy="1137" r="7.0" fill="#231f20"/>
<circle cx="858.3" cy="1100.5" r="7.0" fill="#231f20"/>
<circle cx="858.3" cy="1120.8" r="7.0" fill="#231f20"/>
<circle cx="858.3" cy="1144" r="7.0" fill="#231f20"/>
<circle cx="902" cy="982" r="7.0" fill="#231f20"/>
<circle cx="894.5" cy="994.3" r="7.0" fill="#231f20"/>
<circle cx="909.5" cy="991.5" r="7.0" fill="#231f20"/>
<circle cx="945.4" cy="949.5" r="7.0" fill="#231f20"/>
<circle cx="938" cy="982.5" r="7.0" fill="#231f20"/>
<circle cx="953.2" cy="980" r="7.0" fill="#231f20"/>
<circle cx="981.5" cy="917" r="7.0" fill="#231f20"/>
<circle cx="996.8" cy="923.3" r="7.0" fill="#231f20"/>
<circle cx="981.5" cy="932.5" r="7.0" fill="#231f20"/>
<circle cx="1054.3" cy="1147" r="7.0" fill="#231f20"/>
<circle cx="1069.3" cy="1158.3" r="7.0" fill="#231f20"/>
<circle cx="1054.3" cy="1170" r="7.0" fill="#231f20"/>
<circle cx="1097.5" cy="1149.8" r="7.0" fill="#231f20"/>
<circle cx="1112.5" cy="1152" r="7.0" fill="#231f20"/>
<circle cx="1097.5" cy="1163.5" r="7.0" fill="#231f20"/>
<circle cx="1148.8" cy="1120.3" r="7.0" fill="#231f20"/>
<circle cx="1148.8" cy="1135.8" r="7.0" fill="#231f20"/>
<circle cx="1148.8" cy="1161" r="7.0" fill="#231f20"/>
<circle cx="1185" cy="1129.5" r="7.0" fill="#231f20"/>
<circle cx="1192.5" cy="1124.5" r="7.0" fill="#231f20"/>
<circle cx="1200" cy="1126" r="7.0" fill="#231f20"/>
<circle cx="1228.8" cy="1068" r="7.0" fill="#231f20"/>
<circle cx="1243" cy="1079" r="7.0" fill="#231f20"/>
<circle cx="1235.8" cy="1107" r="7.0" fill="#231f20"/>
<circle cx="1272.5" cy="1074.5" r="7.0" fill="#231f20"/>
<circle cx="1280" cy="1062.8" r="7.0" fill="#231f20"/>
<circle cx="1287" cy="1068.5" r="7.0" fill="#231f20"/>
<circle cx="1323.3" cy="863.8" r="7.0" fill="#231f20"/>
<circle cx="1331" cy="905" r="7.0" fill="#231f20"/>
<circle cx="1315.8" cy="917" r="7.0" fill="#231f20"/>
<circle cx="1359" cy="862.5" r="7.0" fill="#231f20"/>
<circle cx="1374" cy="873.8" r="7.0" fill="#231f20"/>
<circle cx="1359" cy="877" r="7.0" fill="#231f20"/>
<circle cx="1410.5" cy="823" r="7.0" fill="#231f20"/>
<circle cx="1418" cy="880.5" r="7.0" fill="#231f20"/>
<circle cx="1403" cy="888.8" r="7.0" fill="#231f20"/>
<path d="M889 844 H771 V1097" fill="none" stroke="#000" stroke-width="2.1" stroke-linejoin="miter"/>
<path d="M938 871.3 H814 V1097" fill="none" stroke="#000" stroke-width="2.1" stroke-linejoin="miter"/>
<path d="M985.8 898 H857.5 V1075" fill="none" stroke="#000" stroke-width="2.1" stroke-linejoin="miter"/>
<path d="M1313 748 H1193.3 V1094.5" fill="none" stroke="#000" stroke-width="2.1" stroke-linejoin="miter"/>
<path d="M1362 775.5 H1236.8 V1034.5" fill="none" stroke="#000" stroke-width="2.1" stroke-linejoin="miter"/>
<path d="M1409.5 802.3 H1279 V1032" fill="none" stroke="#000" stroke-width="2.1" stroke-linejoin="miter"/>
<text x="779" y="839.5" font-size="22.6" font-style="italic">P=0.00002</text>
<text x="841" y="867" font-size="22.6" font-style="italic">P=0.0002</text>
<text x="888.5" y="893" font-size="22.6" font-style="italic">P=0.0001</text>
<text x="1216" y="744.5" font-size="22.6" font-style="italic">P=0.0001</text>
<text x="1251.5" y="772" font-size="22.6" font-style="italic">P=0.00007</text>
<text x="1312" y="797" font-size="22.6" font-style="italic">P=0.0006</text>
<text x="185.8" y="1274" font-size="28.2" text-anchor="end">DMSO</text>
<text x="185.8" y="1305.2" font-size="28.2" text-anchor="end">125 µM Hesp</text>
<text x="185.8" y="1340" font-size="28.2" text-anchor="end">5 µM 5-FU</text>
<text x="185.8" y="1373.5" font-size="28.2" text-anchor="end">25 µM 5-FU</text>
<text x="185.8" y="1407.1" font-size="28.2" text-anchor="end">50 µM 5-FU</text>
<text x="216.5" y="1270.62" font-size="31" text-anchor="middle">-</text>
<text x="259.5" y="1273.21" font-size="31" text-anchor="middle">+</text>
<text x="305.5" y="1273.21" font-size="31" text-anchor="middle">+</text>
<text x="349.5" y="1270.62" font-size="31" text-anchor="middle">-</text>
<text x="391" y="1270.62" font-size="31" text-anchor="middle">-</text>
<text x="436" y="1270.62" font-size="31" text-anchor="middle">-</text>
<text x="479" y="1273.21" font-size="31" text-anchor="middle">+</text>
<text x="522.5" y="1273.21" font-size="31" text-anchor="middle">+</text>
<text x="567.5" y="1273.21" font-size="31" text-anchor="middle">+</text>
<text x="637.5" y="1270.62" font-size="31" text-anchor="middle">-</text>
<text x="680" y="1273.21" font-size="31" text-anchor="middle">+</text>
<text x="726.3" y="1273.21" font-size="31" text-anchor="middle">+</text>
<text x="770" y="1270.62" font-size="31" text-anchor="middle">-</text>
<text x="811.8" y="1270.62" font-size="31" text-anchor="middle">-</text>
<text x="856.8" y="1270.62" font-size="31" text-anchor="middle">-</text>
<text x="900" y="1273.21" font-size="31" text-anchor="middle">+</text>
<text x="943.5" y="1273.21" font-size="31" text-anchor="middle">+</text>
<text x="988.8" y="1273.21" font-size="31" text-anchor="middle">+</text>
<text x="1060" y="1270.62" font-size="31" text-anchor="middle">-</text>
<text x="1103" y="1273.21" font-size="31" text-anchor="middle">+</text>
<text x="1149.3" y="1273.21" font-size="31" text-anchor="middle">+</text>
<text x="1193" y="1270.62" font-size="31" text-anchor="middle">-</text>
<text x="1234.5" y="1270.62" font-size="31" text-anchor="middle">-</text>
<text x="1279.5" y="1270.62" font-size="31" text-anchor="middle">-</text>
<text x="1323" y="1273.21" font-size="31" text-anchor="middle">+</text>
<text x="1366.3" y="1273.21" font-size="31" text-anchor="middle">+</text>
<text x="1411.3" y="1273.21" font-size="31" text-anchor="middle">+</text>
<text x="216.5" y="1303.12" font-size="31" text-anchor="middle">-</text>
<text x="259.5" y="1303.12" font-size="31" text-anchor="middle">-</text>
<text x="305.5" y="1305.41" font-size="31" text-anchor="middle">+</text>
<text x="349.5" y="1303.12" font-size="31" text-anchor="middle">-</text>
<text x="391" y="1303.12" font-size="31" text-anchor="middle">-</text>
<text x="436" y="1303.12" font-size="31" text-anchor="middle">-</text>
<text x="479" y="1305.41" font-size="31" text-anchor="middle">+</text>
<text x="522.5" y="1305.41" font-size="31" text-anchor="middle">+</text>
<text x="567.5" y="1305.41" font-size="31" text-anchor="middle">+</text>
<text x="637.5" y="1303.12" font-size="31" text-anchor="middle">-</text>
<text x="680" y="1303.12" font-size="31" text-anchor="middle">-</text>
<text x="726.3" y="1305.41" font-size="31" text-anchor="middle">+</text>
<text x="770" y="1303.12" font-size="31" text-anchor="middle">-</text>
<text x="811.8" y="1303.12" font-size="31" text-anchor="middle">-</text>
<text x="856.8" y="1303.12" font-size="31" text-anchor="middle">-</text>
<text x="900" y="1305.41" font-size="31" text-anchor="middle">+</text>
<text x="943.5" y="1305.41" font-size="31" text-anchor="middle">+</text>
<text x="988.8" y="1305.41" font-size="31" text-anchor="middle">+</text>
<text x="1060" y="1303.12" font-size="31" text-anchor="middle">-</text>
<text x="1103" y="1303.12" font-size="31" text-anchor="middle">-</text>
<text x="1149.3" y="1305.41" font-size="31" text-anchor="middle">+</text>
<text x="1193" y="1303.12" font-size="31" text-anchor="middle">-</text>
<text x="1234.5" y="1303.12" font-size="31" text-anchor="middle">-</text>
<text x="1279.5" y="1303.12" font-size="31" text-anchor="middle">-</text>
<text x="1323" y="1305.41" font-size="31" text-anchor="middle">+</text>
<text x="1366.3" y="1305.41" font-size="31" text-anchor="middle">+</text>
<text x="1411.3" y="1305.41" font-size="31" text-anchor="middle">+</text>
<text x="216.5" y="1335.12" font-size="31" text-anchor="middle">-</text>
<text x="259.5" y="1335.12" font-size="31" text-anchor="middle">-</text>
<text x="305.5" y="1335.12" font-size="31" text-anchor="middle">-</text>
<text x="349.5" y="1337.41" font-size="31" text-anchor="middle">+</text>
<text x="391" y="1335.12" font-size="31" text-anchor="middle">-</text>
<text x="436" y="1335.12" font-size="31" text-anchor="middle">-</text>
<text x="479" y="1337.41" font-size="31" text-anchor="middle">+</text>
<text x="522.5" y="1335.12" font-size="31" text-anchor="middle">-</text>
<text x="567.5" y="1335.12" font-size="31" text-anchor="middle">-</text>
<text x="637.5" y="1335.12" font-size="31" text-anchor="middle">-</text>
<text x="680" y="1335.12" font-size="31" text-anchor="middle">-</text>
<text x="726.3" y="1335.12" font-size="31" text-anchor="middle">-</text>
<text x="770" y="1337.41" font-size="31" text-anchor="middle">+</text>
<text x="811.8" y="1335.12" font-size="31" text-anchor="middle">-</text>
<text x="856.8" y="1335.12" font-size="31" text-anchor="middle">-</text>
<text x="900" y="1337.41" font-size="31" text-anchor="middle">+</text>
<text x="943.5" y="1335.12" font-size="31" text-anchor="middle">-</text>
<text x="988.8" y="1335.12" font-size="31" text-anchor="middle">-</text>
<text x="1060" y="1335.12" font-size="31" text-anchor="middle">-</text>
<text x="1103" y="1335.12" font-size="31" text-anchor="middle">-</text>
<text x="1149.3" y="1335.12" font-size="31" text-anchor="middle">-</text>
<text x="1193" y="1337.41" font-size="31" text-anchor="middle">+</text>
<text x="1234.5" y="1335.12" font-size="31" text-anchor="middle">-</text>
<text x="1279.5" y="1335.12" font-size="31" text-anchor="middle">-</text>
<text x="1323" y="1337.41" font-size="31" text-anchor="middle">+</text>
<text x="1366.3" y="1335.12" font-size="31" text-anchor="middle">-</text>
<text x="1411.3" y="1335.12" font-size="31" text-anchor="middle">-</text>
<text x="216.5" y="1368.92" font-size="31" text-anchor="middle">-</text>
<text x="259.5" y="1368.92" font-size="31" text-anchor="middle">-</text>
<text x="305.5" y="1368.92" font-size="31" text-anchor="middle">-</text>
<text x="349.5" y="1368.92" font-size="31" text-anchor="middle">-</text>
<text x="391" y="1371.21" font-size="31" text-anchor="middle">+</text>
<text x="436" y="1368.92" font-size="31" text-anchor="middle">-</text>
<text x="479" y="1368.92" font-size="31" text-anchor="middle">-</text>
<text x="522.5" y="1371.21" font-size="31" text-anchor="middle">+</text>
<text x="567.5" y="1368.92" font-size="31" text-anchor="middle">-</text>
<text x="637.5" y="1368.92" font-size="31" text-anchor="middle">-</text>
<text x="680" y="1368.92" font-size="31" text-anchor="middle">-</text>
<text x="726.3" y="1368.92" font-size="31" text-anchor="middle">-</text>
<text x="770" y="1368.92" font-size="31" text-anchor="middle">-</text>
<text x="811.8" y="1371.21" font-size="31" text-anchor="middle">+</text>
<text x="856.8" y="1368.92" font-size="31" text-anchor="middle">-</text>
<text x="900" y="1368.92" font-size="31" text-anchor="middle">-</text>
<text x="943.5" y="1371.21" font-size="31" text-anchor="middle">+</text>
<text x="988.8" y="1368.92" font-size="31" text-anchor="middle">-</text>
<text x="1060" y="1368.92" font-size="31" text-anchor="middle">-</text>
<text x="1103" y="1368.92" font-size="31" text-anchor="middle">-</text>
<text x="1149.3" y="1368.92" font-size="31" text-anchor="middle">-</text>
<text x="1193" y="1368.92" font-size="31" text-anchor="middle">-</text>
<text x="1234.5" y="1371.21" font-size="31" text-anchor="middle">+</text>
<text x="1279.5" y="1368.92" font-size="31" text-anchor="middle">-</text>
<text x="1323" y="1368.92" font-size="31" text-anchor="middle">-</text>
<text x="1366.3" y="1371.21" font-size="31" text-anchor="middle">+</text>
<text x="1411.3" y="1368.92" font-size="31" text-anchor="middle">-</text>
<text x="216.5" y="1405.52" font-size="31" text-anchor="middle">-</text>
<text x="259.5" y="1405.52" font-size="31" text-anchor="middle">-</text>
<text x="305.5" y="1405.52" font-size="31" text-anchor="middle">-</text>
<text x="349.5" y="1405.52" font-size="31" text-anchor="middle">-</text>
<text x="391" y="1405.52" font-size="31" text-anchor="middle">-</text>
<text x="436" y="1407.91" font-size="31" text-anchor="middle">+</text>
<text x="479" y="1405.52" font-size="31" text-anchor="middle">-</text>
<text x="522.5" y="1405.52" font-size="31" text-anchor="middle">-</text>
<text x="567.5" y="1407.91" font-size="31" text-anchor="middle">+</text>
<text x="637.5" y="1405.52" font-size="31" text-anchor="middle">-</text>
<text x="680" y="1405.52" font-size="31" text-anchor="middle">-</text>
<text x="726.3" y="1405.52" font-size="31" text-anchor="middle">-</text>
<text x="770" y="1405.52" font-size="31" text-anchor="middle">-</text>
<text x="811.8" y="1405.52" font-size="31" text-anchor="middle">-</text>
<text x="856.8" y="1407.91" font-size="31" text-anchor="middle">+</text>
<text x="900" y="1405.52" font-size="31" text-anchor="middle">-</text>
<text x="943.5" y="1405.52" font-size="31" text-anchor="middle">-</text>
<text x="988.8" y="1407.91" font-size="31" text-anchor="middle">+</text>
<text x="1060" y="1405.52" font-size="31" text-anchor="middle">-</text>
<text x="1103" y="1405.52" font-size="31" text-anchor="middle">-</text>
<text x="1149.3" y="1405.52" font-size="31" text-anchor="middle">-</text>
<text x="1193" y="1405.52" font-size="31" text-anchor="middle">-</text>
<text x="1234.5" y="1405.52" font-size="31" text-anchor="middle">-</text>
<text x="1279.5" y="1407.91" font-size="31" text-anchor="middle">+</text>
<text x="1323" y="1405.52" font-size="31" text-anchor="middle">-</text>
<text x="1366.3" y="1405.52" font-size="31" text-anchor="middle">-</text>
<text x="1411.3" y="1407.91" font-size="31" text-anchor="middle">+</text>
</svg>
</body></html>
